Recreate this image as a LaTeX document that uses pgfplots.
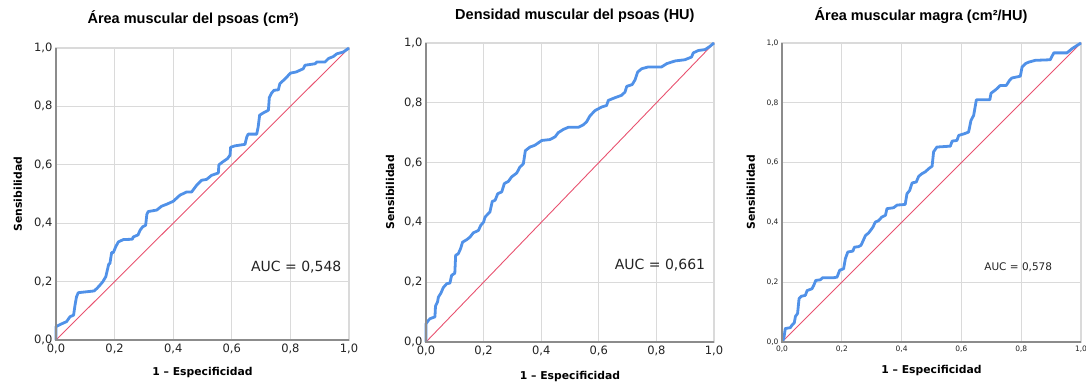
\documentclass[border=0pt]{standalone}
\usepackage{pgfplots}
\pgfplotsset{compat=1.18}
\usepackage{fontspec}
\setmainfont{DejaVu Sans}
\newfontfamily\titlefont{Liberation Sans}
\definecolor{rocblue}{RGB}{80,145,232}
\definecolor{diagred}{RGB}{232,82,112}
\definecolor{gridgray}{RGB}{218,218,218}
\definecolor{axgray}{RGB}{140,140,140}
\definecolor{txtgray}{RGB}{35,35,35}
\pgfplotsset{
  rocstyle/.style={
    scale only axis,
    xmin=0, xmax=1, ymin=0, ymax=1,
    xtick={0,0.2,...,1.0}, ytick={0,0.2,...,1.0},
    grid=major,
    major grid style={draw=gridgray, line width=1.1pt},
    axis line style={draw=gridgray, line width=1.1pt},
    tick style={draw=none},
    major tick length=0pt,
    /pgf/number format/assume math mode=true,
    /pgf/number format/.cd, fixed, fixed zerofill, precision=1, use comma, /pgfplots/.cd,
    ticklabel style={text=txtgray},
    label style={font=\bfseries\fontsize{10.8}{12}\selectfont, text=black},
    title style={font=\titlefont\bfseries\fontsize{14.5}{16}\selectfont, anchor=center},
    clip=false,
  },
}
\begin{document}
\begin{tikzpicture}
\useasboundingbox (0,0) rectangle (1086pt,383pt);
% ---------- Panel 1 ----------
\begin{axis}[rocstyle,
  at={(56pt,43pt)}, anchor=south west, width=293pt, height=292pt,
  ticklabel style={font=\fontsize{11.5}{13}\selectfont},
  title={Área muscular del psoas (cm²)},
  title style={at={(axis description cs:0.468,1.079)}},
  xlabel={1 – Especificidad},
  xlabel style={at={(axis description cs:0.5,-0.113)}, anchor=center},
  ylabel={Sensibilidad},
  ylabel style={at={(axis description cs:-0.130,0.5)}, anchor=center},
]
\addplot[diagred, line width=0.9pt] coordinates {(0,0) (1,1)};
\addplot[rocblue, line width=2.8pt, line join=round] coordinates {
(0,0) (0,0.046) (0.012,0.052) (0.036,0.063) (0.048,0.08) (0.06,0.085) (0.065,0.12) (0.07,0.148) (0.076,0.162) (0.13,0.168) (0.14,0.177) (0.15,0.188) (0.16,0.2) (0.17,0.217) (0.18,0.26) (0.184,0.262) (0.19,0.30) (0.196,0.30) (0.204,0.32) (0.213,0.336) (0.23,0.344) (0.26,0.345) (0.264,0.353) (0.28,0.36) (0.287,0.376) (0.296,0.388) (0.306,0.393) (0.31,0.43) (0.315,0.44) (0.344,0.445) (0.36,0.458) (0.378,0.465) (0.4,0.475) (0.423,0.496) (0.446,0.507) (0.463,0.507) (0.48,0.53) (0.497,0.547) (0.514,0.55) (0.531,0.564) (0.554,0.572) (0.556,0.6) (0.569,0.61) (0.585,0.621) (0.594,0.633) (0.596,0.66) (0.611,0.665) (0.645,0.67) (0.651,0.695) (0.656,0.705) (0.685,0.705) (0.69,0.73) (0.695,0.77) (0.708,0.778) (0.725,0.787) (0.728,0.83) (0.736,0.846) (0.744,0.855) (0.759,0.857) (0.764,0.878) (0.776,0.889) (0.79,0.903) (0.8,0.914) (0.82,0.918) (0.844,0.929) (0.85,0.941) (0.884,0.946) (0.89,0.952) (0.918,0.952) (0.93,0.964) (0.947,0.971) (0.958,0.98) (0.98,0.986) (1,1)};
\draw[axgray, line width=1.4pt] (rel axis cs:0,1) -- (rel axis cs:0,0) -- (rel axis cs:1,0);
\node[font=\fontsize{14}{16}\selectfont, text=txtgray] at (rel axis cs:0.82,0.25) {AUC = 0,548};
\end{axis}
% ---------- Panel 2 ----------
\begin{axis}[rocstyle,
  at={(426pt,41pt)}, anchor=south west, width=288pt, height=299pt,
  ticklabel style={font=\fontsize{11.5}{13}\selectfont},
  title={Densidad muscular del psoas (HU)},
  title style={at={(axis description cs:0.517,1.071)}},
  xlabel={1 – Especificidad},
  xlabel style={at={(axis description cs:0.5,-0.114)}, anchor=center},
  ylabel={Sensibilidad},
  ylabel style={at={(axis description cs:-0.125,0.5)}, anchor=center},
]
\addplot[diagred, line width=0.9pt] coordinates {(0,0) (1,1)};
\addplot[rocblue, line width=2.8pt, line join=round] coordinates {
(0,0) (0,0.061) (0.008,0.072) (0.014,0.078) (0.031,0.084) (0.033,0.12) (0.04,0.134) (0.043,0.15) (0.052,0.164) (0.06,0.182) (0.072,0.195) (0.083,0.197) (0.089,0.223) (0.1,0.23) (0.103,0.29) (0.112,0.295) (0.12,0.312) (0.127,0.334) (0.141,0.342) (0.153,0.351) (0.164,0.365) (0.182,0.373) (0.19,0.39) (0.2,0.401) (0.205,0.418) (0.222,0.435) (0.23,0.47) (0.24,0.474) (0.249,0.496) (0.263,0.502) (0.272,0.53) (0.286,0.537) (0.297,0.552) (0.315,0.565) (0.326,0.585) (0.338,0.596) (0.345,0.64) (0.361,0.652) (0.378,0.658) (0.402,0.674) (0.43,0.677) (0.448,0.686) (0.459,0.7) (0.477,0.711) (0.494,0.718) (0.529,0.718) (0.546,0.726) (0.558,0.737) (0.569,0.756) (0.587,0.774) (0.61,0.786) (0.627,0.791) (0.633,0.808) (0.656,0.817) (0.679,0.825) (0.691,0.836) (0.697,0.855) (0.716,0.861) (0.726,0.877) (0.735,0.903) (0.749,0.914) (0.772,0.92) (0.818,0.92) (0.836,0.931) (0.865,0.94) (0.899,0.944) (0.922,0.953) (0.928,0.967) (0.946,0.975) (0.969,0.978) (0.986,0.989) (1,1)};
\draw[axgray, line width=1.4pt] (rel axis cs:0,1) -- (rel axis cs:0,0) -- (rel axis cs:1,0);
\node[font=\fontsize{14}{16}\selectfont, text=txtgray] at (rel axis cs:0.8125,0.257) {AUC = 0,661};
\end{axis}
% ---------- Panel 3 ----------
\begin{axis}[rocstyle,
  at={(782pt,41pt)}, anchor=south west, width=299pt, height=299pt,
  ticklabel style={font=\fontsize{7.5}{9}\selectfont},
  title={Área muscular magra (cm²/HU)},
  title style={at={(axis description cs:0.465,1.071)}},
  xlabel={1 – Especificidad},
  xlabel style={at={(axis description cs:0.5,-0.097)}, anchor=center},
  ylabel={Sensibilidad},
  ylabel style={at={(axis description cs:-0.104,0.5)}, anchor=center},
]
\addplot[diagred, line width=0.9pt] coordinates {(0,0) (1,1)};
\addplot[rocblue, line width=2.8pt, line join=round] coordinates {
(0,0) (0.006,0.011) (0.011,0.045) (0.028,0.048) (0.033,0.056) (0.041,0.064) (0.045,0.086) (0.052,0.095) (0.057,0.145) (0.065,0.153) (0.078,0.156) (0.084,0.172) (0.1,0.178) (0.106,0.189) (0.113,0.206) (0.128,0.208) (0.136,0.215) (0.173,0.215) (0.184,0.217) (0.193,0.24) (0.206,0.245) (0.212,0.279) (0.22,0.301) (0.237,0.304) (0.242,0.317) (0.256,0.319) (0.264,0.323) (0.271,0.338) (0.279,0.356) (0.29,0.365) (0.304,0.384) (0.312,0.401) (0.323,0.406) (0.334,0.418) (0.346,0.424) (0.351,0.446) (0.373,0.449) (0.385,0.458) (0.412,0.46) (0.418,0.496) (0.427,0.507) (0.435,0.532) (0.449,0.535) (0.457,0.554) (0.468,0.563) (0.479,0.569) (0.491,0.58) (0.502,0.588) (0.507,0.636) (0.518,0.652) (0.563,0.655) (0.569,0.672) (0.585,0.674) (0.591,0.691) (0.608,0.696) (0.624,0.702) (0.632,0.741) (0.641,0.758) (0.65,0.81) (0.695,0.81) (0.699,0.832) (0.714,0.843) (0.73,0.858) (0.75,0.858) (0.761,0.875) (0.769,0.883) (0.797,0.889) (0.803,0.92) (0.814,0.931) (0.825,0.936) (0.847,0.942) (0.897,0.944) (0.909,0.967) (0.953,0.967) (0.97,0.981) (0.987,0.992) (1,1)};
\draw[axgray, line width=1.4pt] (rel axis cs:0,1) -- (rel axis cs:0,0) -- (rel axis cs:1,0);
\node[font=\fontsize{10.5}{12}\selectfont, text=txtgray] at (rel axis cs:0.79,0.251) {AUC = 0,578};
\end{axis}
\end{tikzpicture}
\end{document}
